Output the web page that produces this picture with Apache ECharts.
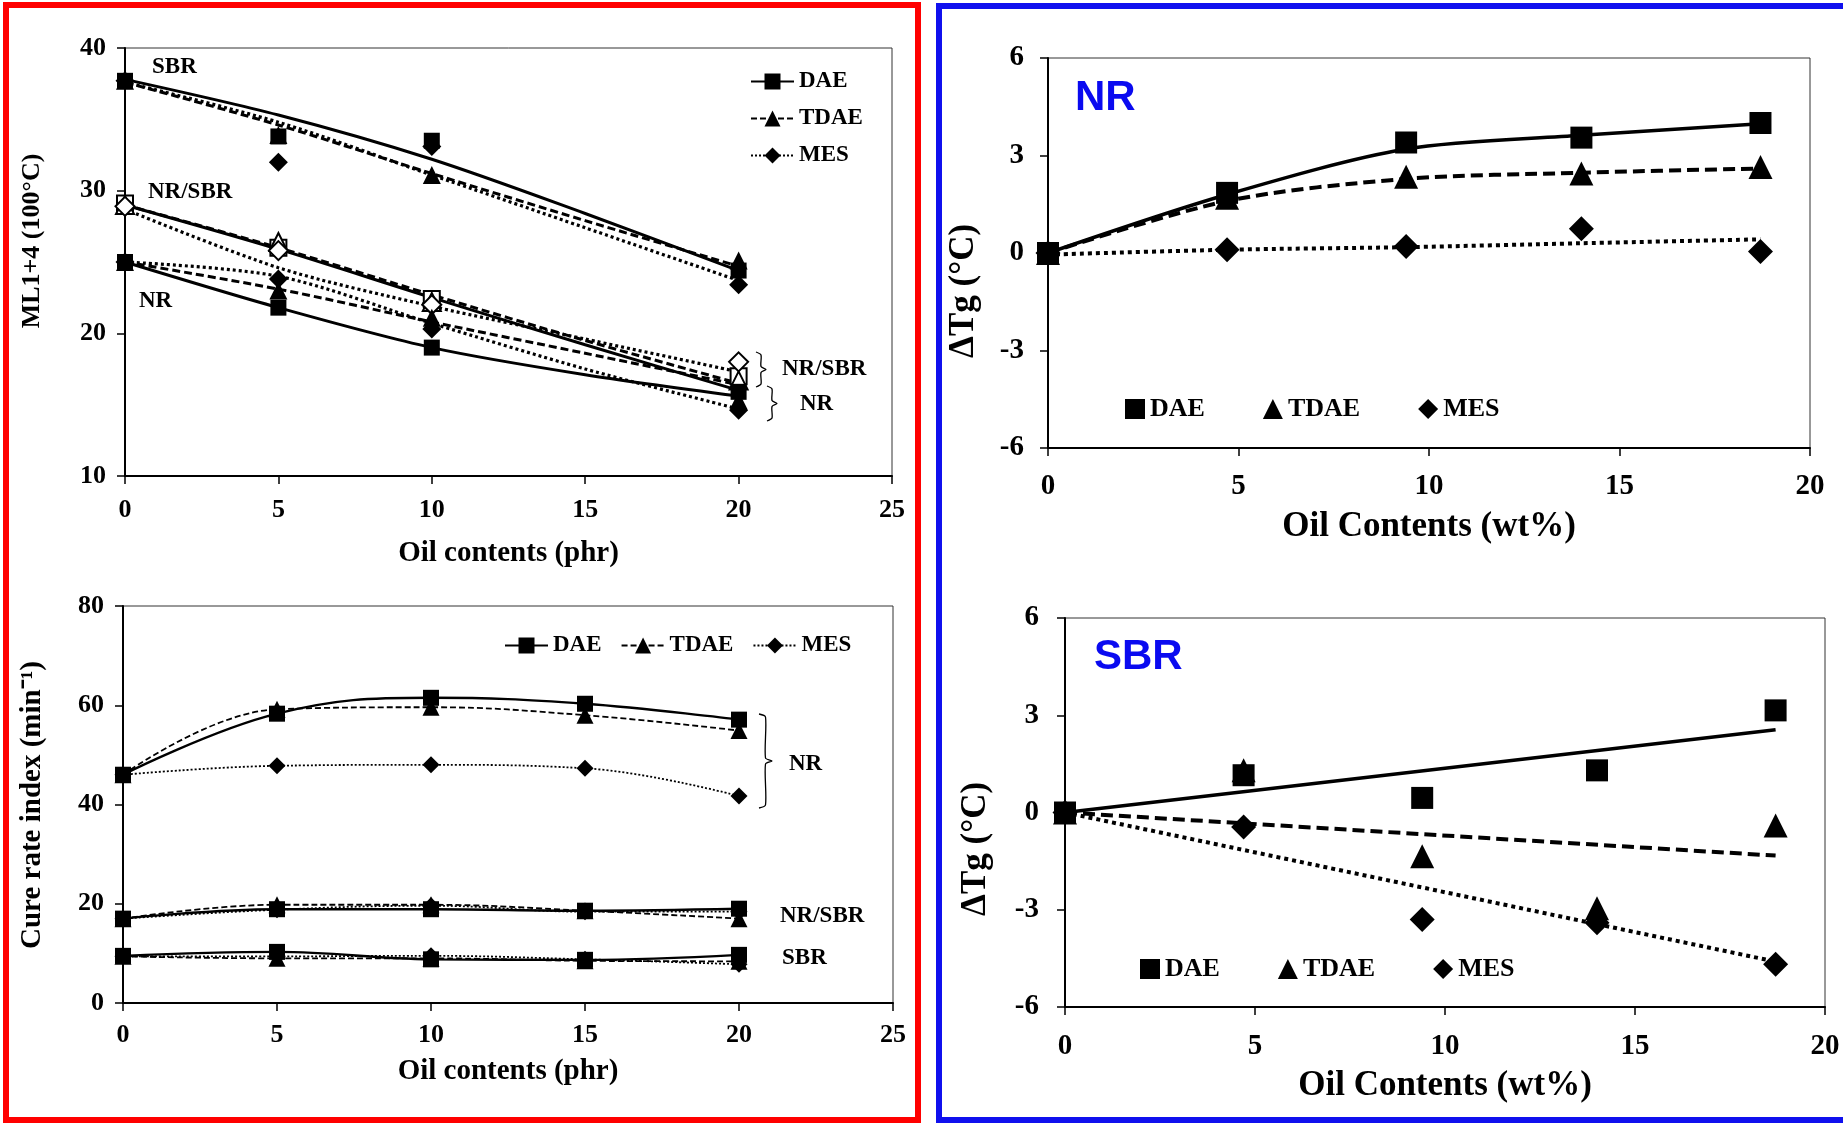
<!DOCTYPE html>
<html>
<head>
<meta charset="utf-8">
<script src="https://cdn.jsdelivr.net/npm/echarts@6/dist/echarts.min.js"></script>
<style>
  html, body { margin: 0; padding: 0; background: #fff; }
  #main { width: 1843px; height: 1123px; }
</style>
</head>
<body>
<div id="main"></div>
<script>
// x values
const phr4 = [0, 5, 10, 20];
const phr5 = [0, 5, 10, 15, 20];
const wt = [0, 4.7, 9.4, 14.0, 18.7];
const wtFit = [0, 18.7];

// Mooney viscosity ML1+4 (100°C), measured points
const mlSbrDAE = [37.7, 33.8, 33.5, 24.4];
const mlSbrTDAE = [37.7, 33.9, 31.1, 25.1];
const mlSbrMES = [37.7, 32.0, 33.1, 23.4];
const mlBlendDAE = [29.1, 26.0, 22.4, 17.0];
const mlBlendTDAE = [29.0, 26.4, 22.2, 16.7];
const mlBlendMES = [28.9, 25.8, 22.0, 18.0];
const mlNrDAE = [25.0, 21.8, 19.0, 15.9];
const mlNrTDAE = [25.0, 23.0, 21.1, 15.3];
const mlNrMES = [25.0, 23.8, 20.3, 14.6];
// Mooney trend curves, read at 0/5/10/15/20 phr
const mlFitSbrDAE = [37.8, 35.3, 32.2, 28.4, 24.4];
const mlFitSbrTDAE = [37.6, 34.6, 31.2, 27.9, 24.7];
const mlFitSbrMES = [37.6, 34.8, 31.1, 27.4, 23.7];
const mlFitBlendDAE = [29.0, 25.9, 22.5, 19.2, 16.0];
const mlFitBlendTDAE = [29.0, 26.0, 22.7, 19.5, 16.5];
const mlFitBlendMES = [28.7, 24.6, 21.9, 19.6, 17.3];
const mlFitNrDAE = [25.0, 21.8, 19.0, 17.1, 15.6];
const mlFitNrTDAE = [25.0, 23.1, 20.8, 18.6, 16.4];
const mlFitNrMES = [25.0, 24.0, 20.7, 17.5, 14.7];

// cure rate index (min-1)
const crNrDAE = [46.0, 58.3, 61.5, 60.3, 57.1];
const crNrTDAE = [46.0, 59.2, 59.6, 58.0, 54.9];
const crNrMES = [46.0, 47.8, 48.0, 47.3, 41.7];
const crBlendDAE = [17.0, 18.9, 18.9, 18.6, 19.0];
const crBlendTDAE = [17.0, 19.8, 19.8, 18.6, 17.0];
const crBlendMES = [17.0, 18.8, 19.6, 18.4, 18.4];
const crSbrDAE = [9.5, 10.3, 8.8, 8.7, 9.7];
const crSbrTDAE = [9.4, 9.0, 9.0, 8.5, 8.4];
const crSbrMES = [9.4, 9.4, 9.5, 8.8, 7.8];

// delta Tg, NR
const tgNrDAE = [0, 1.85, 3.4, 3.55, 4.0];
const tgNrTDAE = [0, 1.7, 2.35, 2.45, 2.65];
const tgNrMES = [0, 0.1, 0.2, 0.75, 0.05];
const tgFitNrDAE = [0, 1.8, 3.2, 3.62, 3.98];
const tgFitNrTDAE = [0, 1.6, 2.28, 2.47, 2.6];
const tgFitNrMES = [-0.05, 0.1, 0.18, 0.3, 0.42];
// delta Tg, SBR
const tgSbrDAE = [0, 1.15, 0.45, 1.3, 3.15];
const tgSbrTDAE = [0, 1.3, -1.35, -2.95, -0.4];
const tgSbrMES = [0, -0.45, -3.3, -3.4, -4.68];
const tgFitSbrDAE = [0, 2.55];
const tgFitSbrTDAE = [0, -1.33];
const tgFitSbrMES = [0, -4.6];

const oils = ['DAE', 'TDAE', 'MES'];
const serif = 'Liberation Serif';
const sym = { DAE: 'rect', TDAE: 'triangle', MES: 'diamond' };

const pts = (xs, ys) => xs.map((x, i) => [x, ys[i]]);

// dash patterns per panel weight
const dashThick = { DAE: 'solid', TDAE: [8, 4], MES: [3, 3] };
const dashThin = { DAE: 'solid', TDAE: [6, 3], MES: [2, 2] };
const dashHeavy = { DAE: 'solid', TDAE: [12, 6], MES: [4, 4] };

function fitLine(name, gi, xs, ys, oil, width, dash, smooth) {
  return {
    name, type: 'line', xAxisIndex: gi, yAxisIndex: gi,
    data: pts(xs, ys), showSymbol: false, smooth: smooth, z: 2,
    lineStyle: { color: '#000', width: width, type: dash[oil] },
    itemStyle: { color: '#000' }, silent: true
  };
}
function marks(name, gi, xs, ys, oil, size, hollow) {
  const s = oil === 'TDAE' ? size + 2 : (oil === 'MES' ? size + 3 : size);
  return {
    name, type: 'scatter', xAxisIndex: gi, yAxisIndex: gi,
    data: pts(xs, ys), symbol: sym[oil], symbolSize: s, z: 4,
    itemStyle: hollow
      ? { color: '#fff', borderColor: '#000', borderWidth: 2, opacity: 1 }
      : { color: '#000', opacity: 1 }
  };
}
function cureLine(name, xs, ys, oil) {
  return {
    name, type: 'line', xAxisIndex: 1, yAxisIndex: 1,
    data: pts(xs, ys), smooth: 0.4, symbol: sym[oil],
    symbolSize: oil === 'DAE' ? 16 : 17, showSymbol: true, z: 3,
    lineStyle: { color: '#000', width: oil === 'DAE' ? 2.4 : 1.8, type: dashThin[oil] },
    itemStyle: { color: '#000', opacity: 1 }
  };
}

const series = [];
// cure rate, NR first so the legends take their icons from these
series.push(cureLine('DAE', phr5, crNrDAE, 'DAE'));
series.push(cureLine('TDAE', phr5, crNrTDAE, 'TDAE'));
series.push(cureLine('MES', phr5, crNrMES, 'MES'));
series.push(cureLine('DAE blend', phr5, crBlendDAE, 'DAE'));
series.push(cureLine('TDAE blend', phr5, crBlendTDAE, 'TDAE'));
series.push(cureLine('MES blend', phr5, crBlendMES, 'MES'));
series.push(cureLine('DAE sbr', phr5, crSbrDAE, 'DAE'));
series.push(cureLine('TDAE sbr', phr5, crSbrTDAE, 'TDAE'));
series.push(cureLine('MES sbr', phr5, crSbrMES, 'MES'));

// Mooney trend curves
const mlFits = {
  SBR: [mlFitSbrDAE, mlFitSbrTDAE, mlFitSbrMES],
  Blend: [mlFitBlendDAE, mlFitBlendTDAE, mlFitBlendMES],
  NR: [mlFitNrDAE, mlFitNrTDAE, mlFitNrMES]
};
const mlPts = {
  SBR: [mlSbrDAE, mlSbrTDAE, mlSbrMES],
  Blend: [mlBlendDAE, mlBlendTDAE, mlBlendMES],
  NR: [mlNrDAE, mlNrTDAE, mlNrMES]
};
Object.keys(mlFits).forEach(g => {
  oils.forEach((oil, k) => {
    series.push(fitLine('ml fit ' + g + ' ' + oil, 0, phr5, mlFits[g][k], oil,
      oil === 'MES' ? 3.2 : 3, dashThick, 0.3));
  });
});
Object.keys(mlPts).forEach(g => {
  oils.forEach((oil, k) => {
    series.push(marks('ml ' + g + ' ' + oil, 0, phr4, mlPts[g][k], oil, 16, g === 'Blend'));
  });
});

// Tg NR
[tgFitNrDAE, tgFitNrTDAE, tgFitNrMES].forEach((ys, k) => {
  series.push(fitLine('tg fit NR ' + oils[k], 2, wt, ys, oils[k], oils[k] === 'DAE' ? 3.5 : 4, dashHeavy, 0.3));
});
[tgNrDAE, tgNrTDAE, tgNrMES].forEach((ys, k) => {
  series.push(marks('tg NR ' + oils[k], 2, wt, ys, oils[k], 22, false));
});
// Tg SBR
[tgFitSbrDAE, tgFitSbrTDAE, tgFitSbrMES].forEach((ys, k) => {
  series.push(fitLine('tg fit SBR ' + oils[k], 3, wtFit, ys, oils[k], oils[k] === 'DAE' ? 3.5 : 4, dashHeavy, false));
});
[tgSbrDAE, tgSbrTDAE, tgSbrMES].forEach((ys, k) => {
  series.push(marks('tg SBR ' + oils[k], 3, wt, ys, oils[k], 22, false));
});

const tickFont = (size) => ({ fontFamily: serif, fontWeight: 'bold', fontSize: size, color: '#000' });

function xAx(gi, max, labelSize, margin, name, gap, nameSize) {
  return {
    type: 'value', gridIndex: gi, min: 0, max: max, interval: 5,
    axisLine: { show: true, onZero: false, lineStyle: { color: '#000', width: 2 } },
    axisTick: { show: true, length: 8, lineStyle: { color: '#000', width: 1.5 } },
    axisLabel: Object.assign({ margin: margin }, tickFont(labelSize)),
    splitLine: { show: false },
    name: name, nameLocation: 'middle', nameGap: gap,
    nameTextStyle: tickFont(nameSize)
  };
}
function yAx(gi, min, max, interval, labelSize, margin) {
  return {
    type: 'value', gridIndex: gi, min: min, max: max, interval: interval,
    axisLine: { show: true, onZero: false, lineStyle: { color: '#000', width: 2 } },
    axisTick: { show: true, length: 8, lineStyle: { color: '#000', width: 1.5 } },
    axisLabel: Object.assign({ margin: margin }, tickFont(labelSize)),
    splitLine: { show: false }
  };
}

const gridBox = { show: true, borderColor: '#333', borderWidth: 1, containLabel: false };

const legendText = (size) => ({ fontFamily: serif, fontWeight: 'bold', fontSize: size, color: '#000' });

function label(text, x, y, size) {
  return {
    type: 'text', x: x, y: y, z: 10,
    style: { text: text, font: 'bold ' + size + 'px "Liberation Serif"', fill: '#000',
      textAlign: 'left', align: 'left', textVerticalAlign: 'middle', verticalAlign: 'middle' }
  };
}
function blueLabel(text, x, y) {
  return {
    type: 'text', x: x, y: y, z: 10,
    style: { text: text, font: 'bold 42px "Liberation Sans"', fill: '#0a0af0',
      textAlign: 'left', align: 'left', textVerticalAlign: 'middle', verticalAlign: 'middle' }
  };
}
function yTitle(text, x, y, size) {
  return {
    type: 'text', x: x, y: y, rotation: Math.PI / 2, z: 10,
    style: { text: text, font: 'bold ' + size + 'px "Liberation Serif"', fill: '#000',
      textAlign: 'center', align: 'center', textVerticalAlign: 'middle', verticalAlign: 'middle' }
  };
}
// curly bracket "}" drawn as a smoothed polyline
function brace(x, y, w, h) {
  const m = w / 2;
  return {
    type: 'polyline', z: 10,
    shape: {
      points: [[x, y], [x + m, y + 3], [x + m, y + h / 2 - 3], [x + w, y + h / 2],
        [x + m, y + h / 2 + 3], [x + m, y + h - 3], [x, y + h]],
      smooth: 0.25
    },
    style: { fill: 'none', stroke: '#000', lineWidth: 1.3 }
  };
}

const myChart = echarts.init(document.getElementById('main'));
myChart.setOption({
  animation: false,
  backgroundColor: '#fff',
  grid: [
    Object.assign({ left: 125, top: 48, width: 767, height: 428 }, gridBox),
    Object.assign({ left: 123, top: 606, width: 770, height: 397 }, gridBox),
    Object.assign({ left: 1048, top: 58, width: 762, height: 390 }, gridBox),
    Object.assign({ left: 1065, top: 618, width: 760, height: 389 }, gridBox)
  ],
  xAxis: [
    xAx(0, 25, 26, 21, 'Oil contents (phr)', 63, 29),
    xAx(1, 25, 26, 19, 'Oil contents (phr)', 54, 29),
    xAx(2, 20, 29, 24, 'Oil Contents (wt%)', 61, 35),
    xAx(3, 20, 29, 25, 'Oil Contents (wt%)', 61, 35)
  ],
  yAxis: [
    yAx(0, 10, 40, 10, 26, 19),
    yAx(1, 0, 80, 20, 26, 19),
    yAx(2, -6, 6, 3, 29, 24),
    yAx(3, -6, 6, 3, 29, 26)
  ],
  legend: [
    { orient: 'vertical', left: 750, top: 70, padding: 0, itemWidth: 43, itemHeight: 20, itemGap: 14,
      selectedMode: false, data: oils, textStyle: legendText(23) },
    { orient: 'horizontal', left: 504, top: 634, padding: 0, itemWidth: 43, itemHeight: 20, itemGap: 19,
      selectedMode: false, data: oils, textStyle: legendText(23) },
    { orient: 'horizontal', left: 1125, top: 396, padding: 0, itemWidth: 20, itemHeight: 20, itemGap: 58,
      selectedMode: false, textStyle: legendText(26),
      data: oils.map(o => ({ name: o, icon: sym[o] })) },
    { orient: 'horizontal', left: 1140, top: 956, padding: 0, itemWidth: 20, itemHeight: 20, itemGap: 58,
      selectedMode: false, textStyle: legendText(26),
      data: oils.map(o => ({ name: o, icon: sym[o] })) }
  ],
  graphic: [
    { type: 'rect', z: 20, shape: { x: 6, y: 5, width: 912, height: 1115 },
      style: { fill: 'none', stroke: '#ff0000', lineWidth: 6 } },
    { type: 'rect', z: 20, shape: { x: 939, y: 6, width: 912, height: 1114 },
      style: { fill: 'none', stroke: '#1010ee', lineWidth: 6 } },
    label('SBR', 152, 67, 23),
    label('NR/SBR', 148, 192, 23),
    label('NR', 139, 301, 23),
    label('NR/SBR', 782, 369, 23),
    label('NR', 800, 404, 23),
    brace(756, 352, 10, 35),
    brace(767, 386, 10, 35),
    label('NR', 789, 764, 23),
    label('NR/SBR', 780, 916, 23),
    label('SBR', 782, 958, 23),
    brace(759, 714, 13, 94),
    blueLabel('NR', 1075, 98),
    blueLabel('SBR', 1094, 657),
    yTitle('ML1+4 (100°C)', 32, 241, 26),
    yTitle('Cure rate index (min⁻¹)', 33, 805, 29),
    yTitle('ΔTg (°C)', 964, 291, 35),
    yTitle('ΔTg (°C)', 976, 849, 35)
  ],
  series: series
});
</script>
</body>
</html>
